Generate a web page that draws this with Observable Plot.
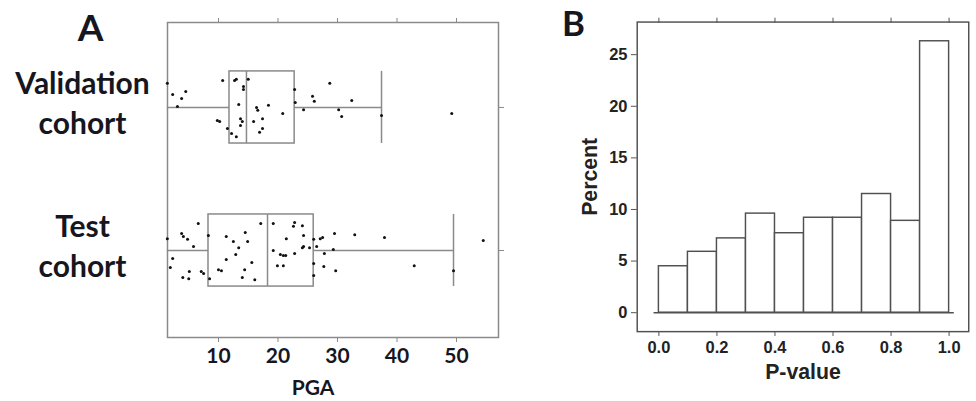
<!DOCTYPE html>
<html><head><meta charset="utf-8">
<script src="https://cdn.jsdelivr.net/npm/d3@7"></script>
<script src="https://cdn.jsdelivr.net/npm/@observablehq/plot@0.6"></script>
<style>
html,body{margin:0;padding:0;background:#fff;overflow:hidden;}
#wrap{position:relative;width:976px;height:401px;overflow:hidden;background:#fff;}
#a,#b{position:absolute;top:0;}
#a{left:0;} #b{left:560px;}
</style></head><body>
<div id="wrap"><div id="a"></div><div id="b"></div></div>
<script>
// ---------- Panel A data ----------
const cohortNames = ["Validation\ncohort", "Test\ncohort"];
const cohortPos = [1, 0];
const whiskerLo = [1.4, 1.4];
const q1 = [11.85, 8.32];
const median = [14.7, 18.24];
const q3 = [22.8, 26.0];
const whiskerHi = [37.4, 49.5];

const valX = [1.4, 2.3, 4.5, 3.8, 3.1, 10.7, 12.7, 13.0, 15.0, 14.2, 14.2, 13.4, 16.4, 16.6, 18.4, 20.8, 17.4, 15.9, 13.7, 14.0, 9.8, 10.2, 11.5, 13.7, 17.4, 16.9, 12.2, 13.0, 22.8, 22.9, 24.3, 25.8, 26.1, 28.7, 32.4, 30.2, 30.7, 37.4, 49.2];
const valJitter = [-0.67, -0.36, -0.44, -0.25, -0.03, -0.75, -0.75, -0.78, -0.78, -0.58, -0.5, -0.08, 0, 0.08, -0.06, 0.17, 0.31, 0.39, 0.31, 0.39, 0.36, 0.39, 0.58, 0.5, 0.58, 0.69, 0.72, 0.81, -0.5, -0.14, 0.06, -0.31, -0.17, -0.67, -0.19, 0.06, 0.25, 0.22, 0.17];
const testX = [1.4, 6.6, 3.8, 4.1, 4.8, 5.8, 2.3, 1.9, 4.0, 5.0, 5.1, 7.1, 7.5, 8.3, 8.5, 11.3, 12.5, 13.4, 12.9, 14.5, 14.9, 11.3, 15.6, 10.0, 10.5, 14.4, 14.0, 16.1, 17.1, 19.2, 22.8, 22.6, 24.1, 21.4, 24.3, 19.2, 20.4, 20.9, 21.3, 22.8, 24.1, 24.3, 25.3, 19.9, 20.9, 26.0, 26.5, 27.1, 27.5, 29.5, 32.9, 37.9, 27.8, 29.3, 26.0, 27.7, 29.7, 26.0, 42.9, 49.5, 54.5];
const testJitter = [-0.33, -0.75, -0.47, -0.39, -0.31, -0.11, 0.22, 0.47, 0.75, 0.78, 0.58, 0.58, 0.64, -0.42, 0.78, -0.39, -0.25, -0.08, 0.11, -0.5, -0.25, 0.25, 0.33, 0.53, 0.56, 0.53, 0.75, 0.81, -0.75, -0.75, -0.78, -0.67, -0.69, -0.33, -0.42, 0, 0.11, 0.14, 0.14, 0.08, -0.08, -0.11, -0.08, 0.42, 0.42, -0.31, -0.11, -0.33, -0.36, -0.47, -0.44, -0.36, 0.08, -0.03, 0.36, 0.44, 0.56, 0.69, 0.42, 0.56, -0.28];
const pgaTicks = [10, 20, 30, 40, 50];

// ---------- Panel B data ----------
const binEdges = [0, 0.1, 0.2, 0.3, 0.4, 0.5, 0.6, 0.7, 0.8, 0.9, 1.0];
const percent = [4.5, 5.9, 7.2, 9.6, 7.7, 9.2, 9.2, 11.5, 8.9, 26.3];
const pTicks = [0, 0.2, 0.4, 0.6, 0.8, 1.0];
const percentTicks = [0, 5, 10, 15, 20, 25];

// ---------- build tables ----------
const half = 0.252;
const summary = cohortNames.map((name, i) => ({
  name, pos: cohortPos[i], lo: whiskerLo[i], q1: q1[i], med: median[i], q3: q3[i], hi: whiskerHi[i]
}));
const points = [
  ...valX.map((x, i) => ({x, y: cohortPos[0] - valJitter[i] * half})),
  ...testX.map((x, i) => ({x, y: cohortPos[1] - testJitter[i] * half}))
];
const bins = percent.map((p, i) => ({x1: binEdges[i], x2: binEdges[i + 1], p}));

const gA = "#8a8a8a";
const ink = "#16161e";

const plotA = Plot.plot({
  width: 560, height: 401,
  marginLeft: 167, marginRight: 62, marginTop: 22, marginBottom: 64,
  x: {domain: [1.43, 57.06], label: null},
  y: {domain: [-0.608, 1.594], label: null},
  style: {fontFamily: "Lato, sans-serif", fontSize: "21px", color: ink, background: "white"},
  marks: [
    Plot.frame({stroke: gA, strokeWidth: 1.5}),
    Plot.axisX({anchor: "bottom", ticks: pgaTicks, tickSize: 5, tickPadding: 6, stroke: gA, fill: ink, fontWeight: "bold", label: null}),
    Plot.axisX({anchor: "top", ticks: pgaTicks, tickSize: 5, tickFormat: () => "", stroke: gA, label: null}),
    Plot.axisY({anchor: "right", ticks: cohortPos, tickSize: 5, tickFormat: () => "", stroke: gA, label: null}),
    Plot.ruleY(summary, {y: "pos", x1: "lo", x2: "q1", stroke: gA, strokeWidth: 1.5}),
    Plot.ruleY(summary, {y: "pos", x1: "q3", x2: "hi", stroke: gA, strokeWidth: 1.5}),
    Plot.ruleX(summary, {x: "hi", y1: d => d.pos - half, y2: d => d.pos + half, stroke: gA, strokeWidth: 1.5}),
    Plot.rect(summary, {x1: "q1", x2: "q3", y1: d => d.pos - half, y2: d => d.pos + half, fill: "none", stroke: gA, strokeWidth: 1.5}),
    Plot.ruleX(summary, {x: "med", y1: d => d.pos - half, y2: d => d.pos + half, stroke: gA, strokeWidth: 1.5}),
    Plot.dot(points, {x: "x", y: "y", r: 1.5, fill: "#111", stroke: null}),
    Plot.text(summary, {y: "pos", text: "name", frameAnchor: "left", dx: -85, dy: -6, textAnchor: "middle", lineAnchor: "middle", lineHeight: 1.33, fontSize: 30, fontWeight: "bold", fill: ink}),
    Plot.text(["A"], {frameAnchor: "top-left", dx: -77, dy: -8, textAnchor: "middle", lineAnchor: "top", fontSize: 37, fontWeight: "bold", fill: ink}),
    Plot.text(["PGA"], {frameAnchor: "bottom", dx: -20, dy: 43, textAnchor: "middle", lineAnchor: "top", fontSize: 21, fontWeight: "bold", fill: ink})
  ]
});
document.getElementById("a").appendChild(plotA);

const gB = "#505050";
const plotB = Plot.plot({
  width: 430, height: 401,
  marginLeft: 79.3, marginRight: 8, marginTop: 22.3, marginBottom: 58.7,
  x: {domain: [-0.0747, 1.0677], label: null},
  y: {domain: [-1.837, 28.16], label: null},
  style: {fontFamily: "'Liberation Sans', Arial, sans-serif", fontSize: "17px", color: "#222", background: "white"},
  marks: [
    Plot.frame({stroke: gB, strokeWidth: 1.5}),
    Plot.axisY({anchor: "left", ticks: percentTicks, tickSize: 6, tickPadding: 4, stroke: gB, fill: "#222", fontWeight: "bold", label: null}),
    Plot.axisX({anchor: "bottom", ticks: pTicks, tickSize: 5, tickPadding: 5, tickFormat: d3.format(".1f"), stroke: gB, fill: "#222", fontWeight: "bold", label: null}),
    Plot.axisX({anchor: "top", ticks: pTicks, tickSize: 5, tickFormat: () => "", stroke: gB, label: null}),
    Plot.rect(bins, {x1: "x1", x2: "x2", y1: 0, y2: "p", fill: "white", stroke: gB, strokeWidth: 1.5}),
    Plot.ruleY([0], {x1: -0.0167, x2: 1.0177, stroke: gB, strokeWidth: 1.5}),
    Plot.text(["Percent"], {frameAnchor: "left", dx: -49, rotate: -90, textAnchor: "middle", lineAnchor: "middle", fontSize: 22, fontWeight: "bold", fill: "#222"}),
    Plot.text(["P-value"], {frameAnchor: "bottom", dy: 33, textAnchor: "middle", lineAnchor: "top", fontSize: 22, fontWeight: "bold", fill: "#222"}),
    Plot.text(["B"], {frameAnchor: "top-left", dx: -66, dy: -11, textAnchor: "middle", lineAnchor: "top", fontSize: 36, fontWeight: "bold", fill: ink, fontFamily: "Lato, sans-serif"})
  ]
});
document.getElementById("b").appendChild(plotB);
</script>
</body></html>
